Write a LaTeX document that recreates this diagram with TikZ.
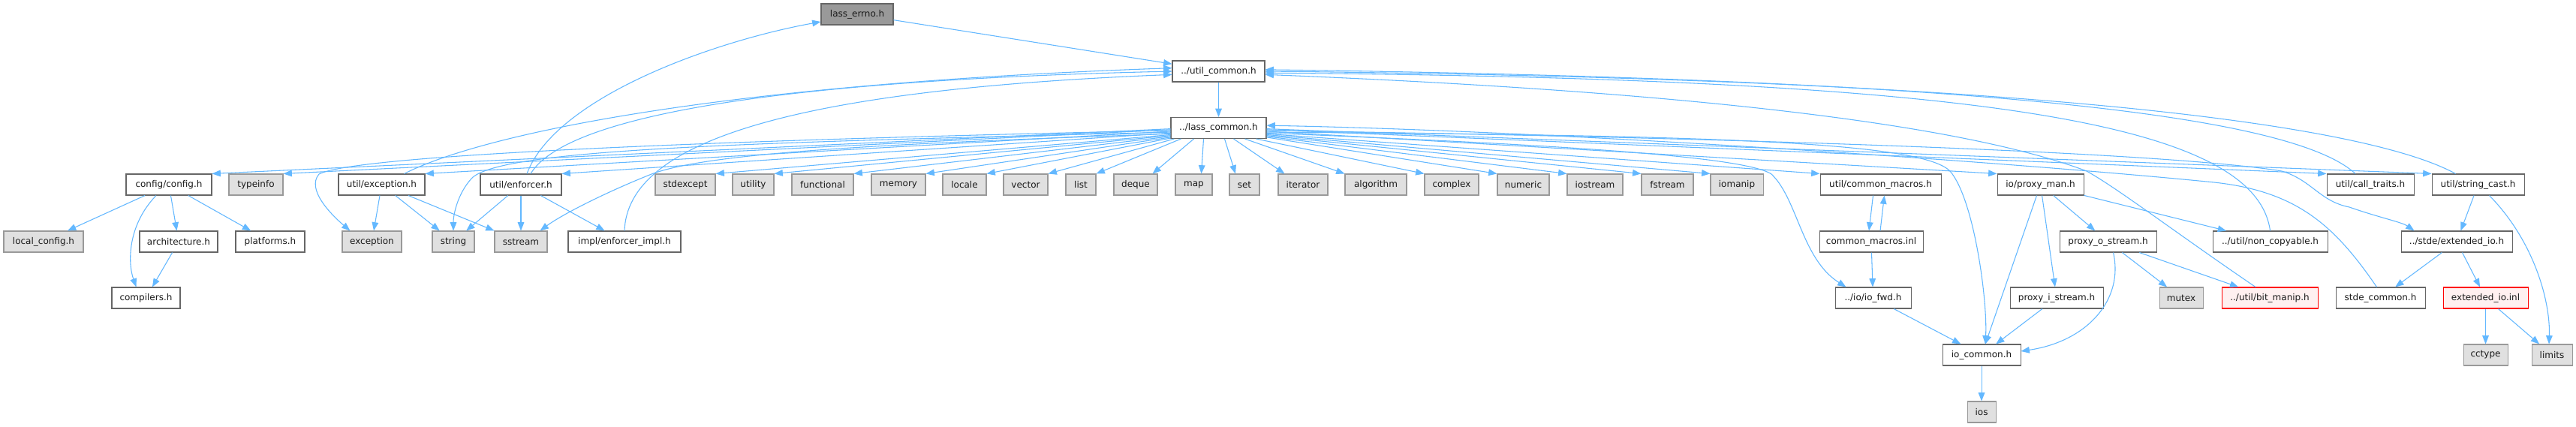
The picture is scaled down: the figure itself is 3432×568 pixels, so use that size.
\documentclass[tikz,border=0pt]{standalone}
\usepackage{fontspec}
\setmainfont{DejaVu Sans}
\usetikzlibrary{arrows.meta,calc}
\definecolor{edgec}{HTML}{63B8FF}
\definecolor{bord}{HTML}{666666}
\definecolor{gfill}{HTML}{E0E0E0}
\definecolor{gbord}{HTML}{999999}
\definecolor{rootfill}{HTML}{999999}
\definecolor{rfill}{HTML}{FFF0F0}
\definecolor{txt}{HTML}{1A1A1A}
\begin{document}
\begin{tikzpicture}[x=0.75pt,y=-0.75pt,
  base/.style={draw, rectangle, minimum height=21pt, inner sep=0pt,
    font=\fontsize{9}{11}\selectfont, line width=0.8pt, text=txt},
  wn/.style={base, draw=bord, fill=white},
  gn/.style={base, draw=gbord, fill=gfill},
  rn/.style={base, draw=red, fill=rfill},
  rootn/.style={base, draw=bord, fill=rootfill},
  bw/.style={minimum width=#1*0.75pt},
  dep/.style={draw=edgec, line width=0.8pt, -{Triangle[length=8.5pt,width=6.5pt]}}]
\fill[white] (0,0) rectangle (3432,568);
\useasboundingbox (0,0) rectangle (3432,568);

% row 0-2
\node[rootn,bw=96] (errno) at (1142,19) {lass\_errno.h};
\node[wn,bw=123] (ucommon) at (1623.5,95) {../util\_common.h};
\node[wn,bw=127] (lcommon) at (1623.5,170.5) {../lass\_common.h};
% row 3
\node[wn,bw=114] (config) at (225,246) {config/config.h};
\node[gn,bw=72] (typeinfo) at (341,246) {typeinfo};
\node[wn,bw=115] (exch) at (508.5,246) {util/exception.h};
\node[wn,bw=108] (enforcer) at (694,246) {util/enforcer.h};
\node[gn,bw=80] (stdexcept) at (913,246) {stdexcept};
\node[gn,bw=55] (utility) at (1003.5,246) {utility};
\node[gn,bw=82] (functional) at (1096,246) {functional};
\node[gn,bw=72] (memory) at (1197,246) {memory};
\node[gn,bw=58] (locale) at (1285,246) {locale};
\node[gn,bw=59] (vector) at (1366.5,246) {vector};
\node[gn,bw=40] (list) at (1440,246) {list};
\node[gn,bw=58] (deque) at (1513,246) {deque};
\node[gn,bw=49] (map) at (1590.5,246) {map};
\node[gn,bw=40] (set) at (1658,246) {set};
\node[gn,bw=66] (iterator) at (1736,246) {iterator};
\node[gn,bw=82] (algorithm) at (1833,246) {algorithm};
\node[gn,bw=72] (complex) at (1934,246) {complex};
\node[gn,bw=69] (numeric) at (2029.5,246) {numeric};
\node[gn,bw=74] (iostream) at (2125,246) {iostream};
\node[gn,bw=69] (fstream) at (2221.5,246) {fstream};
\node[gn,bw=70] (iomanip) at (2314,246) {iomanip};
\node[wn,bw=161] (cmacros) at (2505.5,246) {util/common\_macros.h};
\node[wn,bw=115] (proxyman) at (2718.5,246) {io/proxy\_man.h};
\node[wn,bw=116] (calltraits) at (3158,246) {util/call\_traits.h};
\node[wn,bw=123] (stringcast) at (3301.5,246) {util/string\_cast.h};
% row 4
\node[gn,bw=106] (localcfg) at (58,322) {local\_config.h};
\node[wn,bw=104] (arch) at (238,322) {architecture.h};
\node[wn,bw=92] (platforms) at (360,322) {platforms.h};
\node[gn,bw=79] (exception) at (495.5,322) {exception};
\node[gn,bw=56] (string) at (604,322) {string};
\node[gn,bw=70] (sstream) at (694,322) {sstream};
\node[wn,bw=150] (enfimpl) at (832,322) {impl/enforcer\_impl.h};
\node[wn,bw=138] (cminl) at (2493,322) {common\_macros.inl};
\node[wn,bw=129] (proxyo) at (2808.5,322) {proxy\_o\_stream.h};
\node[wn,bw=153] (noncopy) at (3024.5,322) {../util/non\_copyable.h};
\node[wn,bw=148] (extio) at (3273,322) {../stde/extended\_io.h};
% row 5
\node[wn,bw=91] (compilers) at (194.5,397) {compilers.h};
\node[wn,bw=101] (iofwd) at (2495.5,397) {../io/io\_fwd.h};
\node[wn,bw=124] (proxyi) at (2740,397) {proxy\_i\_stream.h};
\node[gn,bw=58] (mutex) at (2906,397) {mutex};
\node[rn,bw=128] (bitmanip) at (3024,397) {../util/bit\_manip.h};
\node[wn,bw=119] (stdecommon) at (3171.5,397) {stde\_common.h};
\node[rn,bw=113] (extinl) at (3311.5,397) {extended\_io.inl};
% row 6-7
\node[wn,bw=104] (iocommon) at (2640,473) {io\_common.h};
\node[gn,bw=59] (cctype) at (3311.5,473) {cctype};
\node[gn,bw=54] (limits) at (3400,473) {limits};
\node[gn,bw=38] (ios) at (2640,549) {ios};

% top chain
\draw[dep] (errno) -- (ucommon);
\draw[dep] (ucommon) -- (lcommon);

% fan to the left
\draw[dep] (lcommon.181) -- (config.north east);
\draw[dep] (lcommon.182) -- (typeinfo.north east);
\draw[dep] (lcommon.184) -- (exch.north east);
\draw[dep] (lcommon.186) -- (enforcer.north east);
\draw[dep] (lcommon.188) -- (stdexcept.north east);
\draw[dep] (lcommon.189) -- (utility.north east);
\draw[dep] (lcommon.190) -- (functional.north east);
\draw[dep] (lcommon.191) -- (memory.north east);
\draw[dep] (lcommon.192) -- (locale.north east);
\draw[dep] ($(lcommon.south west)+(5,0)$) -- (vector.north east);
\draw[dep] ($(lcommon.south west)+(14,0)$) -- (list.north east);
\draw[dep] ($(lcommon.south)+(-33,0)$) -- ($(deque.north east)+(-7,0)$);
\draw[dep] ($(lcommon.south)+(-20,0)$) -- ($(map.north)+(10,0)$);
\draw[dep] ($(lcommon.south)+(8,0)$) -- ($(set.north)+(-12,0)$);
\draw[dep] ($(lcommon.south)+(20,0)$) -- ($(iterator.north west)+(9,0)$);
\draw[dep] ($(lcommon.south)+(35,0)$) -- (algorithm.north west);
\draw[dep] ($(lcommon.south)+(50,0)$) -- (complex.north west);
% fan to the right
\draw[dep] (lcommon.-11) -- (numeric.north west);
\draw[dep] (lcommon.-10) -- (iostream.north west);
\draw[dep] (lcommon.-9) -- (fstream.north west);
\draw[dep] (lcommon.-8) -- (iomanip.north west);
\draw[dep] (lcommon.-7) -- (cmacros.north west);
\draw[dep] (lcommon.-4) -- (proxyman.north west);
\draw[dep] (lcommon.-2) -- (calltraits.north west);
\draw[dep] (lcommon.-1) -- (stringcast.north west);

% long curves from lass_common
\draw[dep] (lcommon.183) .. controls (900,188) and (470,208) .. (425,232)
  .. controls (408,252) and (440,285) .. ($(exception.north west)+(11,0)$);
\draw[dep] (lcommon.185) .. controls (1000,190) and (665,198) .. (628,238)
  .. controls (610,258) and (604,285) .. (string.north);
\draw[dep] (lcommon.187) .. controls (1150,192) and (940,205) .. (868,232)
  .. controls (810,255) and (750,285) .. ($(sstream.north east)+(-10,0)$);
\draw[dep] (lcommon.-6) .. controls (2000,190) and (2320,205) .. (2360,232)
  .. controls (2395,265) and (2400,345) .. ($(iofwd.north west)+(15,0)$);
\draw[dep] (lcommon.-5) .. controls (2300,180) and (2560,190) .. (2598,228)
  .. controls (2630,265) and (2648,400) .. ($(iocommon.north)+(5,0)$);
\draw[dep] (lcommon.-3) .. controls (2400,185) and (2900,205) .. (3040,228)
  .. controls (3080,240) and (3090,268) .. (3130,276)
  .. controls (3170,290) and (3200,296) .. ($(extio.north west)+(18,0)$);

% back edges into util_common / lass_errno / lass_common
\draw[dep] ($(exch.north)+(30,0)$) .. controls (640,180) and (950,112) .. (ucommon.176);
\draw[dep] ($(enforcer.north)+(13,0)$) .. controls (750,160) and (1000,108) .. (ucommon.180);
\draw[dep] ($(enforcer.north)+(8,0)$) .. controls (740,130) and (950,55) .. ($(errno.west)+(0,10)$);
\draw[dep] (enfimpl.north) .. controls (836,190) and (1050,120) .. (ucommon.184);
\draw[dep] ($(calltraits.north)+(-20,0)$) .. controls (3050,150) and (2600,105) .. (ucommon.2);
\draw[dep] ($(stringcast.north)+(-30,0)$) .. controls (3150,165) and (2700,105) .. (ucommon.0);
\draw[dep] (noncopy.north) .. controls (3005,165) and (2650,105) .. (ucommon.-2);
\draw[dep] ($(bitmanip.north)+(-19,0)$) .. controls (2900,311) and (2820,250) .. (2780,228)
  .. controls (2600,160) and (2200,120) .. (ucommon.-4);
\draw[dep] ($(stdecommon.north)+(-5,0)$) .. controls (3110,300) and (3060,255) .. (2950,243)
  .. controls (2700,218) and (2100,175) .. (lcommon.3);

% left cluster
\draw[dep] (config) -- (localcfg);
\draw[dep] ($(config.south)+(-17,0)$) .. controls (170,300) and (170,350) .. ($(compilers.north)+(-13,0)$);
\draw[dep] (config) -- (arch);
\draw[dep] (config) -- (platforms);
\draw[dep] (arch) -- (compilers);
\draw[dep] (exch) -- (exception);
\draw[dep] (exch) -- (string);
\draw[dep] (exch) -- (sstream);
\draw[dep] (enforcer) -- (string);
\draw[dep] (enforcer) -- (sstream);
\draw[dep] (enforcer) -- (enfimpl);

% right cluster
\draw[dep] ($(cmacros.south)+(-10,0)$) -- ($(cminl.north)+(-3,0)$);
\draw[dep] ($(cminl.north)+(12,0)$) -- ($(cmacros.south)+(5,0)$);
\draw[dep] (cminl) -- (iofwd);
\draw[dep] (iofwd) -- (iocommon);
\draw[dep] (proxyman) -- (proxyo);
\draw[dep] (proxyman) -- (proxyi);
\draw[dep] (proxyman) -- (iocommon);
\draw[dep] (proxyman) -- (noncopy);
\draw[dep] (proxyo) -- (mutex);
\draw[dep] (proxyo) -- (bitmanip);
\draw[dep] ($(proxyo.south)+(7,0)$) .. controls (2830,400) and (2780,455) .. ($(iocommon.east)+(0,-5)$);
\draw[dep] (proxyi) -- (iocommon);
\draw[dep] (iocommon) -- (ios);
\draw[dep] (stringcast) -- (extio);
\draw[dep] ($(stringcast.south)+(15,0)$) .. controls (3375,320) and (3398,400) .. ($(limits.north)+(-4,0)$);
\draw[dep] (extio) -- (stdecommon);
\draw[dep] (extio) -- (extinl);
\draw[dep] (extinl) -- (cctype);
\draw[dep] (extinl) -- (limits);
\end{tikzpicture}
\end{document}
